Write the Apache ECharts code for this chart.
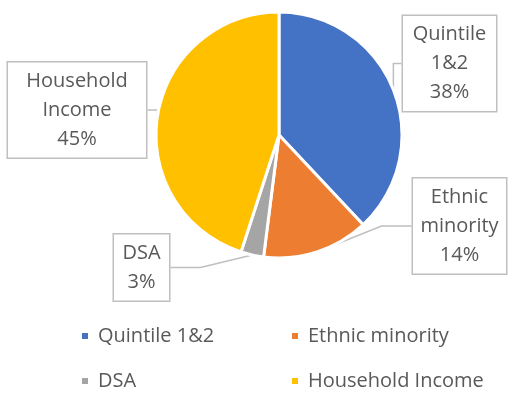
<!DOCTYPE html>
<html>
<head>
<meta charset="utf-8">
<script src="https://cdn.jsdelivr.net/npm/echarts@6/dist/echarts.min.js"></script>
<style>
  html, body { margin: 0; padding: 0; background: #fff; }
  #chart { width: 509px; height: 396px; }
</style>
</head>
<body>
<div id="chart"></div>
<script>
// Share of participants by widening-participation criterion
const categories = ['Quintile 1&2', 'Ethnic minority', 'DSA', 'Household Income'];
const shares = [38, 14, 3, 45];
// wrapped names shown inside the callout boxes
const calloutNames = ['Quintile\n1&2', 'Ethnic\nminority', 'DSA', 'Household\nIncome'];

const colors = ['#4472C4', '#ED7D31', '#A5A5A5', '#FFC000'];
// callout box centres and widths (pixels)
const calloutCentres = [[449.5, 63.5], [459.5, 226], [141.5, 267.5], [77, 110]];
const calloutWidths = [93, 93, 55, 138];

const textColor = '#595959';
const fontFamily = '"Open Sans", sans-serif';

const chart = echarts.init(document.getElementById('chart'));

const legendBase = {
  orient: 'vertical',
  top: 319,
  height: 90,
  itemWidth: 8,
  itemHeight: 8,
  itemGap: 21,
  icon: 'rect',
  textStyle: { color: textColor, fontSize: 20, lineHeight: 24, fontFamily, padding: [0, 0, 0, 4] }
};

chart.setOption({
  animation: false,
  color: colors,
  legend: [
    Object.assign({ data: [categories[0], categories[2]], left: 75 }, legendBase),
    Object.assign({ data: [categories[1], categories[3]], left: 285 }, legendBase)
  ],
  series: [{
    type: 'pie',
    center: [279, 135],
    radius: 123,
    startAngle: 90,
    clockwise: true,
    avoidLabelOverlap: false,
    itemStyle: { borderColor: '#fff', borderWidth: 3 },
    label: {
      show: true,
      position: 'outside',
      color: textColor,
      fontSize: 20,
      lineHeight: 29,
      fontFamily,
      align: 'center',
      backgroundColor: '#fff',
      borderColor: '#BFBFBF',
      borderWidth: 1.5,
      padding: [4, 0],
      formatter: p => calloutNames[p.dataIndex] + '\n' + p.value + '%'
    },
    labelLine: {
      show: true,
      lineStyle: { color: '#BFBFBF', width: 1.5 }
    },
    labelLayout: p => ({
      x: calloutCentres[p.dataIndex][0],
      y: calloutCentres[p.dataIndex][1],
      align: 'center',
      verticalAlign: 'middle'
    }),
    data: categories.map((name, i) => ({
      name,
      value: shares[i],
      label: { width: calloutWidths[i] }
    }))
  }]
});
</script>
</body>
</html>
